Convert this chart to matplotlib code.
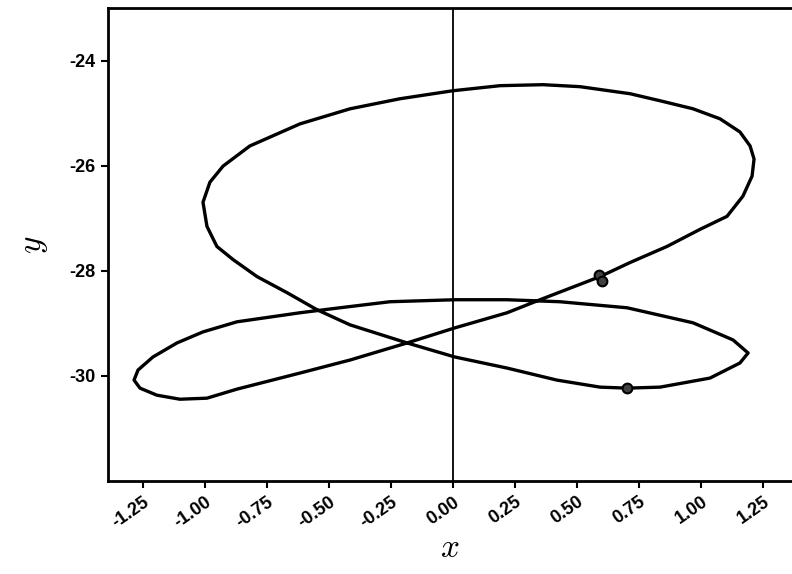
import numpy as np
import matplotlib.pyplot as plt

# Órbita (x, y)
x_orbit = [0.702, 0.835, 1.036, 1.157, 1.190, 1.129, 0.968, 0.702, 0.431, 0.218,
           0.008, -0.254, -0.456, -0.617, -0.871, -1.008, -1.113, -1.210, -1.270, -1.286,
           -1.262, -1.194, -1.101, -0.992, -0.871, -0.617, -0.415, -0.185, 0.008, 0.218,
           0.351, 0.593, 0.714, 0.863, 0.996, 1.105, 1.169, 1.206, 1.214, 1.198,
           1.157, 1.077, 0.968, 0.835, 0.714, 0.512, 0.363, 0.190, 0.000, -0.214,
           -0.415, -0.617, -0.819, -0.927, -0.980, -1.008, -0.992, -0.952, -0.887, -0.790,
           -0.669, -0.548, -0.415, -0.185, 0.008, 0.218, 0.419, 0.593, 0.702]
y_orbit = [-30.233, -30.214, -30.042, -29.755, -29.564, -29.315, -28.990, -28.704, -28.589, -28.551,
           -28.551, -28.589, -28.704, -28.799, -28.971, -29.163, -29.373, -29.641, -29.889, -30.080,
           -30.233, -30.367, -30.444, -30.424, -30.252, -29.946, -29.698, -29.373, -29.086, -28.799,
           -28.551, -28.111, -27.843, -27.537, -27.212, -26.964, -26.581, -26.199, -25.874, -25.625,
           -25.358, -25.109, -24.918, -24.765, -24.631, -24.497, -24.459, -24.478, -24.574, -24.727,
           -24.918, -25.205, -25.625, -26.008, -26.314, -26.696, -27.155, -27.537, -27.786, -28.111,
           -28.417, -28.742, -29.029, -29.373, -29.641, -29.851, -30.080, -30.214, -30.233]

# Puntos marcados
x_marks = [0.59, 0.60, 0.70]
y_marks = [-28.08, -28.20, -30.23]

x_ticks = [-1.25, -1.00, -0.75, -0.50, -0.25, 0.00, 0.25, 0.50, 0.75, 1.00, 1.25]
y_ticks = [-24, -26, -28, -30]

plt.rcParams['mathtext.fontset'] = 'cm'

fig = plt.figure(figsize=(7.92, 5.74), dpi=100)
ax = fig.add_axes([108/792, 1 - 481/574, 1 - 108/792, (481 - 8)/574])

ax.axvline(0, color='black', linewidth=1.3)
ax.plot(x_orbit, y_orbit, color='black', linewidth=2.4, solid_joinstyle='round')
ax.plot(x_marks, y_marks, 'o', color='black', markersize=7,
        markerfacecolor='0.25', markeredgewidth=1.5)

ax.set_xlim(-1.391, 1.367)
ax.set_ylim(-32, -23)

ax.set_xticks(x_ticks)
ax.set_xticklabels(['%.2f' % v for v in x_ticks], rotation=35, ha='right',
                   rotation_mode='anchor', fontsize=13, fontweight='bold',
                   family='Liberation Sans')
ax.set_yticks(y_ticks)
ax.set_yticklabels(['%d' % v for v in y_ticks], fontsize=13, fontweight='bold',
                   family='Liberation Sans')
ax.tick_params(direction='out', length=5, width=1.5, pad=4)

for side in ['left', 'bottom', 'top']:
    ax.spines[side].set_linewidth(2)
ax.spines['right'].set_visible(False)

ax.set_xlabel('$x$', fontsize=24, labelpad=0)
ax.set_ylabel('$y$', fontsize=24, labelpad=14)

plt.savefig('out.png', dpi=100)
